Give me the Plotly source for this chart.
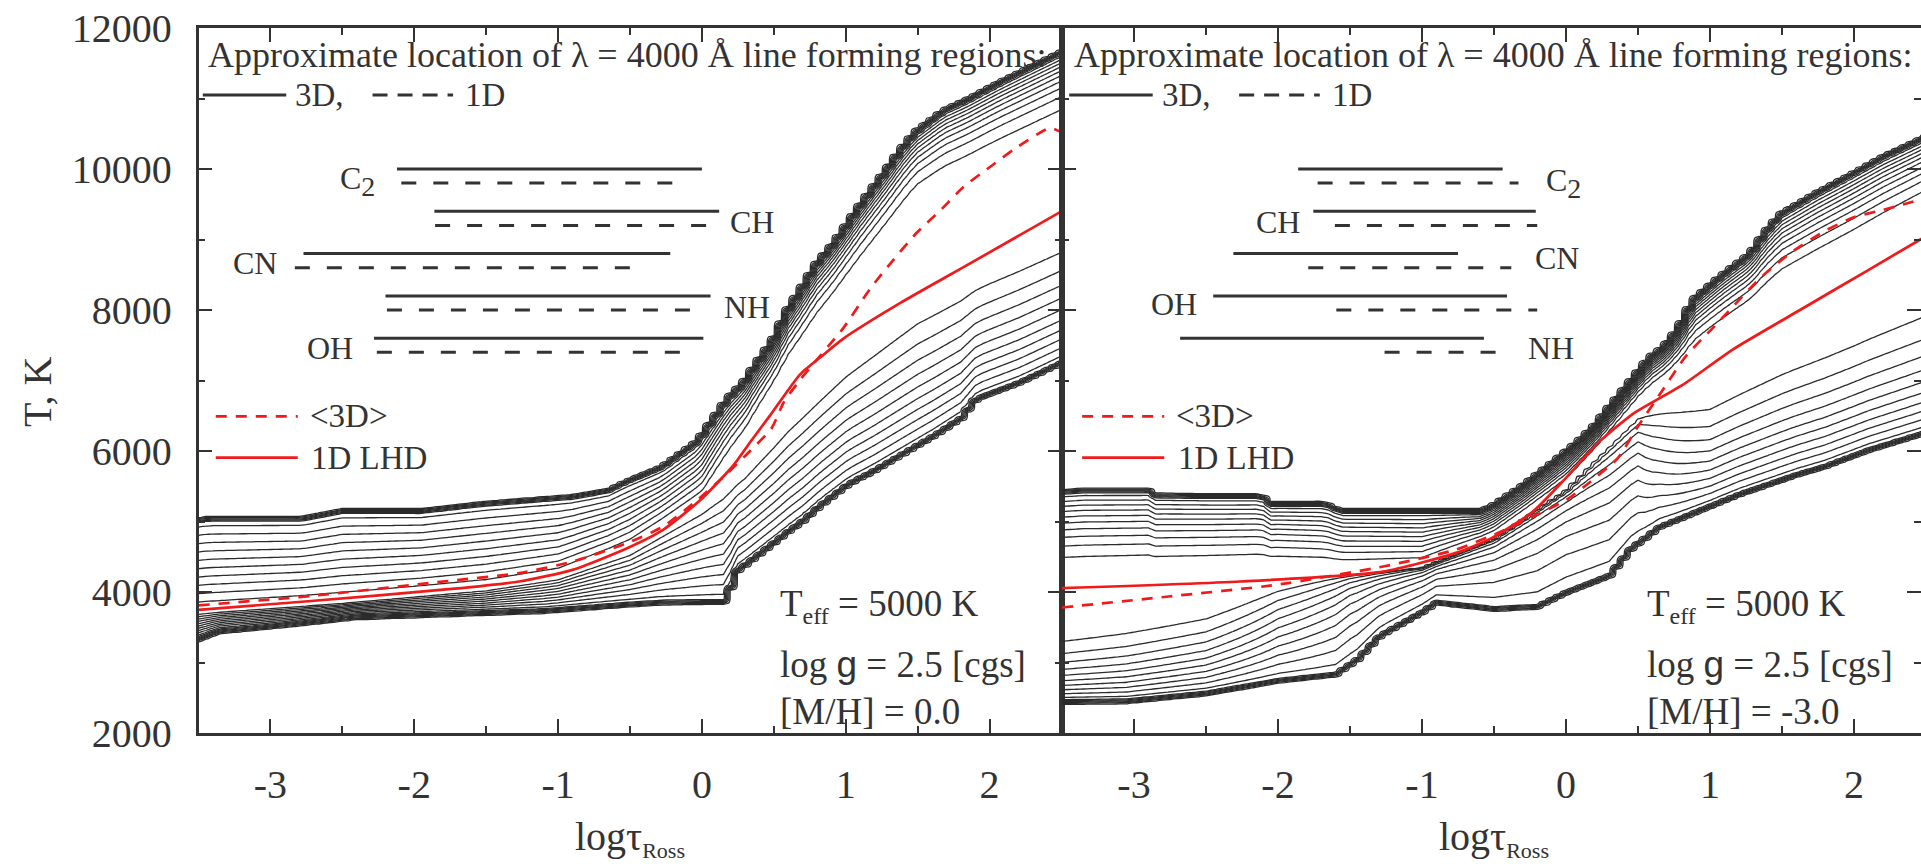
import numpy as np
import plotly.graph_objects as go

FONT = "Liberation Serif, Times New Roman, serif"
INK = "#333333"
LINE_INK = "#2b2b2b"
RED = "#f01a1a"

# ------------------------------------------------------------------
# Left panel  ([M/H] = 0.0) : envelope / ridge of the 3D T-distribution
# ------------------------------------------------------------------
L_top_tau = [-3.5, -3.43, -2.78, -2.5, -1.95, -1.52, -0.9, -0.65, -0.52, -0.28, -0.03, 0.08, 0.18, 0.29,
             0.38, 0.49, 0.59, 0.68, 0.79, 0.89, 0.98, 1.09, 1.18, 1.29, 1.38, 1.48, 1.68, 1.84, 2.07, 2.30, 2.5]
L_top_T = [4980, 5000, 5000, 5110, 5110, 5210, 5310, 5400, 5530, 5730, 6100, 6420, 6710, 6930,
           7210, 7520, 7950, 8230, 8600, 8840, 9090, 9420, 9670, 9970, 10230, 10480, 10790, 10940, 11190, 11420, 11620]
L_bot_tau = [-3.5, -3.36, -2.9, -2.41, -1.1, -0.52, -0.28, 0.18, 0.22, 0.32, 0.61, 0.71, 0.82, 1.02,
             1.19, 1.61, 1.80, 1.91, 2.21, 2.5]
L_bot_T = [3370, 3480, 3570, 3680, 3770, 3860, 3890, 3900, 4300, 4450, 4910, 5060, 5260, 5570,
           5750, 6250, 6500, 6780, 7010, 7290]
L_ridge_tau = [-3.5, -2.5, -1.5, -1.0, -0.5, 0.0, 0.3, 0.6, 1.0, 1.5, 2.0, 2.5]
L_ridge_T = [3720, 3860, 4050, 4220, 4600, 5250, 5850, 6650, 7550, 8500, 9000, 9450]
L_shape_tau = [-3.5, -1.0, 0.0, 0.5, 1.5, 2.5]
L_shape_up = [1.0, 1.0, 1.4, 3.5, 5.0, 5.0]
L_shape_low = [1.0, 1.0, 1.0, 1.4, 1.8, 1.8]

# red curves, left panel
L_avg3d_tau = [-3.5, -2.71, -1.76, -1.27, -0.90, -0.52, -0.27, -0.03, 0.17, 0.335, 0.486, 0.567, 0.683,
               0.984, 1.17, 1.33, 1.49, 1.66, 1.82, 2.00, 2.17, 2.42, 2.5]
L_avg3d_T = [3810, 3946, 4157, 4268, 4432, 4693, 4929, 5307, 5670, 6000, 6328, 6683, 7012,
             7746, 8303, 8709, 9088, 9418, 9747, 10025, 10278, 10582, 10520]
L_lhd_tau = [-3.5, -2.76, -1.76, -1.27, -0.90, -0.52, -0.27, -0.013, 0.22, 0.335, 0.474, 0.683, 0.845,
             0.984, 1.38, 1.84, 2.5]
L_lhd_T = [3747, 3865, 4040, 4149, 4314, 4622, 4882, 5300, 5800, 6125, 6505, 7088, 7366,
           7594, 8100, 8632, 9400]

# molecular line-forming regions, left panel
L_mol = ["C<sub><span style='font-size:28px'>2</span></sub>", "CH", "CN", "NH", "OH"]
L_T3d = [10000, 9400, 8800, 8200, 7600]
L_T1d = [9800, 9200, 8600, 8000, 7400]
L_3d_from = [-2.12, -1.86, -2.77, -2.20, -2.28]
L_3d_to = [0.0, 0.12, -0.22, 0.06, 0.01]
L_1d_from = [-2.09, -1.855, -2.83, -2.19, -2.26]
L_1d_to = [-0.13, 0.06, -0.41, 0.0, -0.07]
L_lab_x = [-2.26, 0.18, -2.94, 0.14, -2.41]
L_lab_T = [9830, 9250, 8670, 8045, 7460]
L_lab_side = ["right", "left", "right", "left", "right"]

# ------------------------------------------------------------------
# Right panel ([M/H] = -3.0)
# ------------------------------------------------------------------
R_top_tau = [-3.5, -3.35, -2.9, -2.85, -2.43, -2.11, -2.06, -1.67, -1.57, -0.6, -0.52, -0.30, -0.11, 0.07,
             0.19, 0.28, 0.40, 0.49, 0.58, 0.68, 0.78, 0.88, 1.08, 1.28, 1.38, 1.49, 1.74, 1.97, 2.20, 2.5]
R_top_T = [5380, 5400, 5400, 5330, 5320, 5320, 5210, 5210, 5110, 5110, 5170, 5470, 5770, 6070,
           6300, 6530, 6830, 7060, 7290, 7440, 7700, 8100, 8450, 8760, 9060, 9320, 9620, 9870, 10130, 10420]
R_bot_tau = [-3.5, -3.05, -2.8, -2.5, -2.0, -1.6, -1.45, -1.29, -1.0, -0.9, -0.5, -0.2, 0.0, 0.3, 0.45,
             0.65, 1.2, 1.6, 1.8, 2.1, 2.5]
R_bot_T = [2480, 2490, 2540, 2600, 2780, 2870, 3080, 3420, 3750, 3890, 3800, 3830, 4030, 4270, 4650,
           4960, 5420, 5700, 5820, 6050, 6300]
R_ridge_tau = [-3.5, -2.5, -2.0, -1.5, -1.0, -0.5, 0.0, 0.5, 1.0, 1.5, 2.0, 2.5]
R_ridge_T = [4050, 4120, 4160, 4240, 4350, 4760, 5450, 6500, 7250, 7900, 8450, 9050]
R_shape_tau = [-3.5, -2.5, -2.0, -1.5, -1.0, 0.0, 0.5, 1.0, 2.5]
R_shape_up = [2.0, 2.0, 2.0, 1.6, 1.3, 2.0, 3.0, 3.0, 3.0]
R_shape_low = [3.0, 2.0, 1.0, 0.5, 0.35, 0.35, 0.6, 2.0, 2.5]

R_avg3d_tau = [-3.5, -2.76, -2.01, -1.27, -0.77, -0.45, -0.2, 0.005, 0.167, 0.36, 0.5, 0.65, 0.83, 1.02,
               1.16, 1.35, 1.56, 1.79, 2.0, 2.2, 2.47]
R_avg3d_T = [3780, 3936, 4102, 4362, 4598, 4858, 5100, 5310, 5560, 5900, 6350, 6800, 7340, 7746,
             8050, 8455, 8810, 9113, 9316, 9419, 9570]
R_lhd_tau = [-3.5, -2.26, -1.27, -0.77, -0.52, -0.23, 0.005, 0.236, 0.47, 0.81, 1.16, 1.625, 2.09, 2.47]
R_lhd_T = [4055, 4149, 4290, 4551, 4760, 5140, 5630, 6140, 6535, 6937, 7442, 8000, 8556, 9012]

R_mol = ["C<sub><span style='font-size:28px'>2</span></sub>", "CH", "CN", "OH", "NH"]
R_T3d = [10000, 9400, 8800, 8200, 7600]
R_T1d = [9800, 9200, 8600, 8000, 7400]
R_3d_from = [-1.86, -1.755, -2.31, -2.45, -2.68]
R_3d_to = [-0.44, -0.21, -0.75, -0.41, -0.57]
R_1d_from = [-1.725, -1.605, -1.79, -1.595, -1.26]
R_1d_to = [-0.33, -0.20, -0.38, -0.20, -0.46]
R_lab_x = [-0.15, -1.83, -0.23, -2.55, -0.28]
R_lab_T = [9800, 9255, 8740, 8085, 7460]
R_lab_side = ["left", "right", "left", "right", "left"]

MH_labels = ["0.0", "-3.0"]
X_TICKS = [-3, -2, -1, 0, 1, 2]
X_TICK_TEXT = ["-3", "-2", "-1", "0", "1", "2"]

# ------------------------------------------------------------------
tau_grid = np.round(np.arange(-3.5, 2.5001, 0.05), 3)
T_grid = np.arange(2000, 12001, 20)


def density(top_tau, top_T, bot_tau, bot_T, r_tau, r_T, s_tau, s_up, s_low, zedge=0.36, ramp=80.0):
    top = np.interp(tau_grid, top_tau, top_T)[None, :]
    bot = np.interp(tau_grid, bot_tau, bot_T)[None, :]
    rid = np.interp(tau_grid, r_tau, r_T)[None, :]
    pu = np.interp(tau_grid, s_tau, s_up)[None, :]
    pl = np.interp(tau_grid, s_tau, s_low)[None, :]
    T = T_grid[:, None]
    above = T >= rid
    u = np.where(above, (T - rid) / (top - rid), (rid - T) / (rid - bot))
    p = np.where(above, pu, pl)
    inside = u <= 1.0
    zin = zedge + (1 - zedge) * (1 - np.clip(u, 0, 1) ** p)
    dout = np.where(above, T - top, bot - T)
    zout = zedge * np.clip(1 - dout / ramp, 0, 1)
    return np.where(inside, zin, zout)


zL = density(L_top_tau, L_top_T, L_bot_tau, L_bot_T, L_ridge_tau, L_ridge_T, L_shape_tau, L_shape_up, L_shape_low)
zR = density(R_top_tau, R_top_T, R_bot_tau, R_bot_T, R_ridge_tau, R_ridge_T, R_shape_tau, R_shape_up, R_shape_low)

fig = go.Figure()
for z, xa, ya in [(zL, "x", "y"), (zR, "x2", "y2")]:
    fig.add_trace(go.Contour(
        x=tau_grid, y=T_grid, z=z, xaxis=xa, yaxis=ya,
        contours=dict(coloring="none", start=0.03, end=0.96, size=0.06),
        line=dict(color=LINE_INK, width=1.3, smoothing=0.6),
        showscale=False, hoverinfo="skip"))

panels = [
    dict(xa="x", ya="y", mol=L_mol, T3=L_T3d, T1=L_T1d, f3=L_3d_from, t3=L_3d_to, f1=L_1d_from, t1=L_1d_to,
         lx=L_lab_x, lT=L_lab_T, side=L_lab_side, a_tau=L_avg3d_tau, a_T=L_avg3d_T, l_tau=L_lhd_tau, l_T=L_lhd_T,
         x0=-3.45, info_x=0.53, mh=MH_labels[0]),
    dict(xa="x2", ya="y2", mol=R_mol, T3=R_T3d, T1=R_T1d, f3=R_3d_from, t3=R_3d_to, f1=R_1d_from, t1=R_1d_to,
         lx=R_lab_x, lT=R_lab_T, side=R_lab_side, a_tau=R_avg3d_tau, a_T=R_avg3d_T, l_tau=R_lhd_tau, l_T=R_lhd_T,
         x0=-3.43, info_x=0.545, mh=MH_labels[1]),
]

annotations = []
DASH_BLK = "15px,17px"
DASH_RED = "11px,9px"
for P in panels:
    xa, ya = P["xa"], P["ya"]
    for i in range(len(P["mol"])):
        fig.add_trace(go.Scatter(x=[P["f3"][i], P["t3"][i]], y=[P["T3"][i]] * 2, mode="lines", xaxis=xa, yaxis=ya,
                                 line=dict(color=INK, width=3), hoverinfo="skip", showlegend=False))
        fig.add_trace(go.Scatter(x=[P["f1"][i], P["t1"][i]], y=[P["T1"][i]] * 2, mode="lines", xaxis=xa, yaxis=ya,
                                 line=dict(color=INK, width=3, dash=DASH_BLK), hoverinfo="skip", showlegend=False))
        annotations.append(dict(x=P["lx"][i], y=P["lT"][i], xref=xa, yref=ya, text=P["mol"][i], showarrow=False,
                                xanchor=P["side"][i], yanchor="middle",
                                font=dict(family=FONT, size=32, color=INK)))
    fig.add_trace(go.Scatter(x=P["a_tau"], y=P["a_T"], mode="lines", xaxis=xa, yaxis=ya,
                             line=dict(color=RED, width=2.7, dash=DASH_RED, shape="spline", smoothing=0.6),
                             hoverinfo="skip", showlegend=False))
    fig.add_trace(go.Scatter(x=P["l_tau"], y=P["l_T"], mode="lines", xaxis=xa, yaxis=ya,
                             line=dict(color=RED, width=2.7, shape="spline", smoothing=0.6),
                             hoverinfo="skip", showlegend=False))
    x0 = P["x0"]
    fig.add_trace(go.Scatter(x=[x0 - 0.02, x0 + 0.56], y=[11050, 11050], mode="lines", xaxis=xa, yaxis=ya,
                             line=dict(color=INK, width=3), hoverinfo="skip", showlegend=False))
    fig.add_trace(go.Scatter(x=[x0 + 1.16, x0 + 1.72], y=[11050, 11050], mode="lines", xaxis=xa, yaxis=ya,
                             line=dict(color=INK, width=3, dash="15px,10px"), hoverinfo="skip", showlegend=False))
    annotations.append(dict(x=x0 + 0.61, y=11050, xref=xa, yref=ya, text="3D,", showarrow=False, xanchor="left",
                            yanchor="middle", font=dict(family=FONT, size=33, color=INK)))
    annotations.append(dict(x=x0 + 1.79, y=11050, xref=xa, yref=ya, text="1D", showarrow=False, xanchor="left",
                            yanchor="middle", font=dict(family=FONT, size=33, color=INK)))
    annotations.append(dict(x=x0, y=11617, xref=xa, yref=ya,
                            text="Approximate location of \u03bb = 4000 \u00c5 line forming regions:",
                            showarrow=False, xanchor="left", yanchor="middle",
                            font=dict(family=FONT, size=36, color=INK)))
    fig.add_trace(go.Scatter(x=[x0 + 0.07, x0 + 0.64], y=[6490, 6490], mode="lines", xaxis=xa, yaxis=ya,
                             line=dict(color=RED, width=2.7, dash=DASH_RED), hoverinfo="skip", showlegend=False))
    fig.add_trace(go.Scatter(x=[x0 + 0.07, x0 + 0.64], y=[5905, 5905], mode="lines", xaxis=xa, yaxis=ya,
                             line=dict(color=RED, width=2.7), hoverinfo="skip", showlegend=False))
    annotations.append(dict(x=x0 + 0.71, y=6490, xref=xa, yref=ya, text="&lt;3D&gt;", showarrow=False,
                            xanchor="left", yanchor="middle", font=dict(family=FONT, size=33, color=INK)))
    annotations.append(dict(x=x0 + 0.72, y=5905, xref=xa, yref=ya, text="1D LHD", showarrow=False,
                            xanchor="left", yanchor="middle", font=dict(family=FONT, size=33, color=INK)))
    info = ["T<sub><span style='font-size:24px'>eff</span></sub> = 5000 K",
            "log <span style='font-family:Liberation Sans'>g</span> = 2.5 [cgs]",
            "[M/H] = " + P["mh"]]
    for txt, Ty in zip(info, [3800, 2970, 2300]):
        annotations.append(dict(x=P["info_x"], y=Ty, xref=xa, yref=ya, text=txt, showarrow=False,
                                xanchor="left", yanchor="middle", font=dict(family=FONT, size=37, color=INK)))

annotations.append(dict(x=37 / 1921, y=1 - 392 / 867, xref="paper", yref="paper", text="T, K", textangle=-90,
                        showarrow=False, xanchor="center", yanchor="middle",
                        font=dict(family=FONT, size=40, color=INK)))
for xc in [630 / 1921, 1494 / 1921]:
    annotations.append(dict(x=xc, y=1 - 838 / 867, xref="paper", yref="paper",
                            text="log\u03c4<sub><span style='font-size:22px'>Ross</span></sub>",
                            showarrow=False, xanchor="center", yanchor="middle",
                            font=dict(family=FONT, size=40, color=INK)))

axis_common = dict(showgrid=False, zeroline=False, showline=True, linecolor=INK, linewidth=2.5,
                   ticks="inside", ticklen=14, tickwidth=2, tickcolor=INK, mirror="ticks",
                   tickfont=dict(family=FONT, size=40, color=INK))
minor_x = dict(dtick=0.5, tick0=0, ticks="inside", ticklen=7, tickwidth=2, tickcolor=INK)
minor_y = dict(dtick=1000, tick0=0, ticks="inside", ticklen=7, tickwidth=2, tickcolor=INK)
ydom = [1 - 733 / 867, 1 - 28 / 867]
fig.update_layout(
    width=1921, height=867, margin=dict(l=0, r=0, t=0, b=0, autoexpand=False),
    paper_bgcolor="white", plot_bgcolor="white", showlegend=False,
    xaxis=dict(domain=[198.5 / 1921, 1061.5 / 1921], range=[-3.5, 2.5], tickmode="array",
               tickvals=X_TICKS, ticktext=X_TICK_TEXT, minor=minor_x,
               ticklabelstandoff=14, anchor="y", **axis_common),
    yaxis=dict(domain=ydom, range=[2000, 12000], dtick=2000, tick0=0, tickformat="d", minor=minor_y,
               ticklabelstandoff=16, anchor="x", **axis_common),
    xaxis2=dict(domain=[1062 / 1921, 1.0], range=[-3.5, 2.465], tickmode="array",
                tickvals=X_TICKS, ticktext=X_TICK_TEXT, minor=minor_x,
                ticklabelstandoff=14, anchor="y2", **axis_common),
    yaxis2=dict(domain=ydom, range=[2000, 12000], dtick=2000, tick0=0, showticklabels=False, minor=minor_y,
                anchor="x2", **axis_common),
    annotations=annotations,
)

fig.write_html("out.html")
